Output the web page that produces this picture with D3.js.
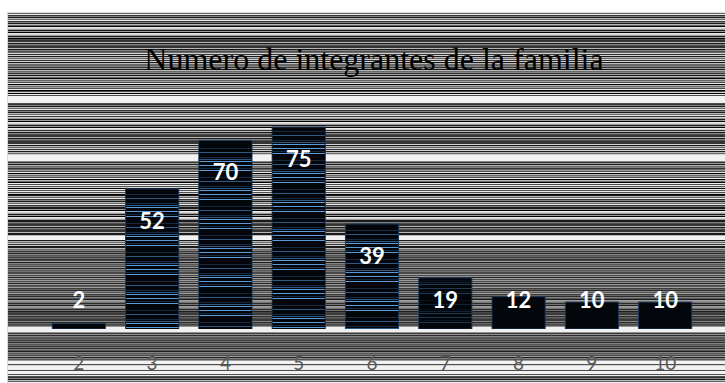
<!DOCTYPE html>
<html>
<head>
<meta charset="utf-8">
<script src="https://cdn.jsdelivr.net/npm/d3@7"></script>
<style>
  body { margin: 0; background: #ffffff; }
  svg { display: block; }
</style>
</head>
<body>
<script>
// Family size distribution: number of households per family size
const categories = ["2", "3", "4", "5", "6", "7", "8", "9", "10"];
const counts = [2, 52, 70, 75, 39, 19, 12, 10, 10];
const chartTitle = "Numero de integrantes de la familia";

const W = 725, H = 383;
const frame = { x: 8, y: 13 };
const plot = { left: 42, right: 702, top: 127, bottom: 329 };

const svg = d3.select("body").append("svg")
  .attr("width", W).attr("height", H);

// ---- horizontal line texture for the chart background ----
// grey level per pixel row (0 = black, 9 = white), repeated down the frame
const bgMotif = "371725094618273905164829371605824739162849";
const bandLight = [[96, 101], [155, 160], [236, 239], [327, 331], [361, 363], [366, 368], [371, 373]];
function rowGrey(y) {
  for (const [a, b] of bandLight) if (y >= a && y <= b) return 242;
  const d = +bgMotif[(y * 7 + Math.floor(y / 13)) % bgMotif.length];
  let g = Math.round(d / 9 * 235);
  if (y > 250 && y < 360) g = Math.round(30 + g * 0.55);   // darker lower band
  return g;
}
svg.append("rect").attr("x", frame.x - 1).attr("y", frame.y - 1)
  .attr("width", W - frame.x + 1).attr("height", H - frame.y + 1)
  .attr("fill", "#d9d9d9");
svg.append("g").selectAll("rect").data(d3.range(frame.y, H)).join("rect")
  .attr("x", frame.x).attr("y", d => d)
  .attr("width", W - frame.x).attr("height", 1)
  .attr("fill", d => { const g = rowGrey(d); return d3.rgb(g, g, g); });

// ---- scales ----
const x = d3.scaleBand().domain(categories)
  .range([plot.left, plot.right]).paddingInner(0.275).paddingOuter(0.14);
const y = d3.scaleLinear().domain([0, 75]).range([plot.bottom, plot.top]);

// ---- bars ----
// per-row colour codes for the bar texture: mostly black, with sparse blue lines
const barMotif = "kkbkknkkkmkkkbkknkkkkbkkmkknk";
const blueCols = { k: "#03060a", b: "#5a9bd8", n: "#15283d", m: "#2a5a85" };
const bars = svg.append("g");
categories.forEach((c, i) => {
  const v = counts[i];
  const x0 = x(c), bw = x.bandwidth(), top = y(v), h = plot.bottom - top;
  const strength = v > 30 ? 1 : v >= 15 ? 0.35 : 0;
  const g = bars.append("g");
  g.append("rect").attr("x", x0).attr("y", top).attr("width", bw).attr("height", h)
    .attr("fill", "#03060a").attr("stroke", "#1f3a5a").attr("stroke-width", 1);
  if (strength > 0) {
    const rows = d3.range(Math.ceil(top) + 1, plot.bottom);
    g.selectAll("rect.r").data(rows).join("rect").attr("class", "r")
      .attr("x", x0 + 0.5).attr("y", d => d).attr("width", bw - 1).attr("height", 1)
      .attr("fill", d => blueCols[barMotif[(d * 2 + i * 5) % barMotif.length]])
      .attr("opacity", strength);
  }
  // value label, inside the bar near its top
  const ly = Math.min(top + 32, 300);
  svg.append("text").attr("x", x0 + bw / 2).attr("y", ly + 8)
    .attr("text-anchor", "middle")
    .attr("font-family", "Lato, 'Open Sans', sans-serif")
    .attr("font-weight", "bold").attr("font-size", 22)
    .attr("fill", "#ffffff").text(v);
});

// ---- baseline ----
svg.append("line").attr("x1", frame.x).attr("x2", W)
  .attr("y1", plot.bottom + 1).attr("y2", plot.bottom + 1)
  .attr("stroke", "#f0f0f0").attr("stroke-width", 2);

// ---- category axis ----
const xAxis = svg.append("g").attr("transform", `translate(0,${plot.bottom})`)
  .call(d3.axisBottom(x).tickSize(0).tickPadding(28));
xAxis.select(".domain").remove();
xAxis.selectAll("text")
  .attr("font-family", "Lato, 'Open Sans', sans-serif")
  .attr("font-size", 19).attr("fill", "#595959");

// ---- title ----
svg.append("text").attr("x", 374).attr("y", 70)
  .attr("text-anchor", "middle")
  .attr("font-family", "'Liberation Serif', 'Times New Roman', serif")
  .attr("font-size", 32).attr("fill", "#000000")
  .text(chartTitle);
</script>
</body>
</html>
